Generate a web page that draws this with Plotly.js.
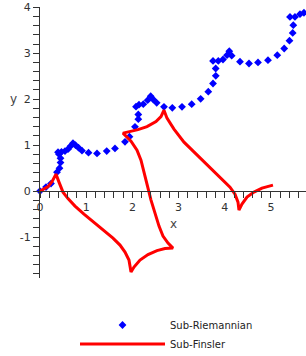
<!DOCTYPE html>
<html>
<head>
<meta charset="utf-8">
<script src="https://cdn.plot.ly/plotly-3.0.1.min.js"></script>
<style>
html,body{margin:0;padding:0;background:#fff;}
#chart{width:306px;height:356px;}
</style>
</head>
<body>
<div id="chart"></div>
<script>
// Sub-Riemannian curve (points)
var srX = [0.000,0.130,0.238,0.368,0.422,0.444,0.444,0.411,0.390,0.465,0.541,0.606,0.660,0.714,0.768,0.833,0.909,1.050,1.234,1.444,1.623,1.840,1.937,2.056,2.128,2.128,2.078,2.143,2.236,2.331,2.396,2.452,2.526,2.684,2.864,3.074,3.284,3.478,3.643,3.745,3.805,3.803,3.745,3.859,3.961,4.048,4.097,4.149,4.329,4.524,4.719,4.935,5.136,5.286,5.400,5.470,5.483,5.411,5.519,5.628,5.714];
var srY = [0.000,0.087,0.163,0.413,0.500,0.620,0.717,0.804,0.848,0.854,0.870,0.913,0.978,1.043,1.000,0.946,0.880,0.837,0.820,0.870,0.928,1.072,1.185,1.398,1.565,1.667,1.837,1.880,1.891,1.978,2.065,1.993,1.920,1.833,1.811,1.833,1.891,2.007,2.163,2.341,2.507,2.667,2.833,2.833,2.863,2.957,3.043,2.946,2.815,2.776,2.800,2.848,2.957,3.102,3.272,3.441,3.609,3.789,3.789,3.848,3.880];

// Sub-Finsler curve (line)
var sfX = [0,0.087,0.173,0.260,0.346,0.411,0.498,0.606,0.758,0.952,1.169,1.407,1.580,1.732,1.840,1.926,1.970,2.035,2.165,2.338,2.532,2.706,2.879,2.771,2.662,2.576,2.489,2.403,2.327,2.251,2.186,2.100,1.970,1.797,1.948,2.121,2.316,2.511,2.619,2.684,2.749,2.900,3.117,3.398,3.680,3.939,4.113,4.221,4.286,4.307,4.372,4.481,4.632,4.805,5.043];
var sfY = [0,0.043,0.098,0.207,0.370,0.196,-0.022,-0.163,-0.326,-0.500,-0.674,-0.870,-1.022,-1.174,-1.326,-1.500,-1.761,-1.652,-1.500,-1.380,-1.293,-1.250,-1.239,-1.130,-0.978,-0.761,-0.478,-0.196,0.109,0.413,0.674,0.891,1.087,1.261,1.293,1.337,1.402,1.511,1.620,1.761,1.587,1.348,1.065,0.783,0.500,0.261,0.087,-0.065,-0.239,-0.413,-0.283,-0.130,-0.022,0.065,0.130];

var xTickVals = [0,1,2,3,4,5];
var yTickVals = [-1,0,1,2,3,4];
var names = ["Sub-Riemannian","Sub-Finsler"];

var xRange = [0, 5.758];
var yRange = [-1.89, 4.005];

var traces = [
  {x: srX, y: srY, type: "scatter", mode: "markers", name: names[0],
   marker: {symbol: "diamond", size: 6, color: "#0000ff"}, cliponaxis: false},
  {x: sfX, y: sfY, type: "scatter", mode: "lines", name: names[1],
   line: {color: "#ff0000", width: 3}, cliponaxis: false}
];

var tickFont = {family: "DejaVu Sans, Verdana, sans-serif", size: 11, color: "#333"};

var layout = {
  width: 306, height: 356,
  margin: {l: 40, r: 0, t: 7, b: 78, autoexpand: false},
  paper_bgcolor: "#fff", plot_bgcolor: "#fff",
  showlegend: true,
  xaxis: {
    range: xRange, anchor: "free",
    position: (0 - yRange[0]) / (yRange[1] - yRange[0]),
    showline: true, linecolor: "#333", linewidth: 1,
    ticks: "outside", ticklen: 6, tickcolor: "#333", tickwidth: 1,
    tickvals: xTickVals, ticktext: xTickVals.map(String),
    minor: {dtick: 0.2, tick0: 0, ticks: "outside", ticklen: 6, tickcolor: "#333", tickwidth: 1},
    showgrid: false, zeroline: false, tickfont: tickFont
  },
  yaxis: {
    range: yRange, anchor: "x",
    showline: true, linecolor: "#333", linewidth: 1,
    ticks: "outside", ticklen: 6, tickcolor: "#333", tickwidth: 1,
    tickvals: yTickVals, ticktext: yTickVals.map(String),
    minor: {dtick: 0.2, tick0: 0, ticks: "outside", ticklen: 6, tickcolor: "#333", tickwidth: 1},
    showgrid: false, zeroline: false, tickfont: tickFont
  },
  legend: {
    xref: "container", yref: "container",
    x: 75 / 306, xanchor: "left", y: (356 - 310.5) / 356, yanchor: "top",
    itemwidth: 85, font: {family: "DejaVu Sans, Verdana, sans-serif", size: 10, color: "#222"},
    bgcolor: "rgba(0,0,0,0)", tracegroupgap: 0
  },
  annotations: [
    {text: "x", xref: "x", yref: "y", x: 2.90, y: -0.72, showarrow: false,
     font: {family: "DejaVu Sans, Verdana, sans-serif", size: 12, color: "#444"}},
    {text: "y", xref: "paper", yref: "y", x: -0.12, y: 2.0, showarrow: false,
     font: {family: "DejaVu Sans, Verdana, sans-serif", size: 12, color: "#444"}}
  ]
};

Plotly.newPlot("chart", traces, layout, {displayModeBar: false, staticPlot: true});
</script>
</body>
</html>
